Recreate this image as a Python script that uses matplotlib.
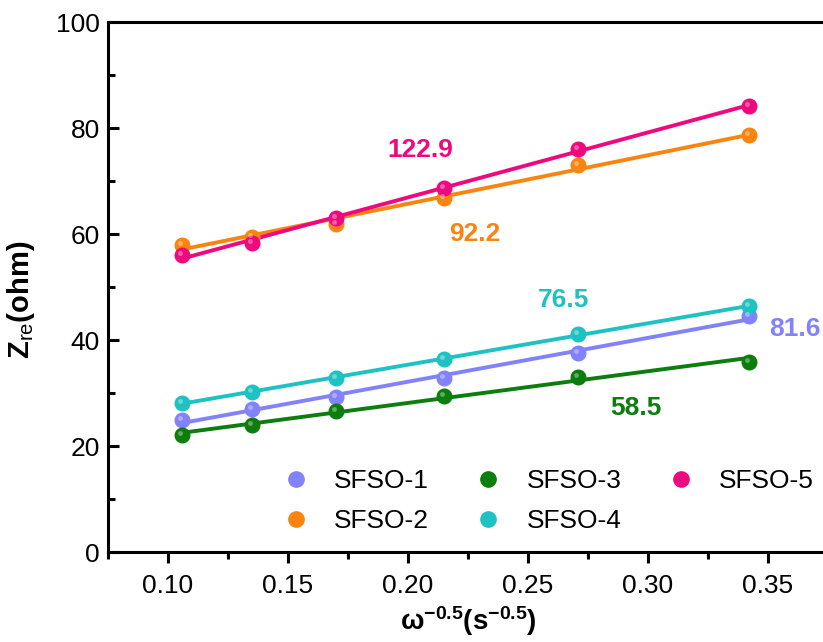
import numpy as np
import matplotlib
matplotlib.use("Agg")
import matplotlib.pyplot as plt
from matplotlib.transforms import ScaledTranslation

# omega^-0.5 values (s^-0.5)
x = [0.106, 0.135, 0.170, 0.215, 0.271, 0.342]

# Z_re (ohm) per sample
sfso1 = [25.0, 26.9, 29.2, 32.8, 37.5, 44.6]
sfso2 = [58.0, 59.5, 61.9, 66.8, 73.0, 78.6]
sfso3 = [22.1, 24.0, 26.6, 29.4, 33.1, 35.9]
sfso4 = [28.2, 30.2, 32.8, 36.4, 41.1, 46.4]
sfso5 = [56.0, 58.3, 63.0, 68.7, 76.0, 84.2]

labels = ["SFSO-1", "SFSO-2", "SFSO-3", "SFSO-4", "SFSO-5"]
colors = ["#8282fa", "#f98410", "#0d7d0d", "#1ec2c2", "#ee0a7e"]
# Warburg coefficients written next to each line
sigma = ["81.6", "92.2", "58.5", "76.5", "122.9"]
sigma_pos = [(0.361, 42.0), (0.228, 60.0), (0.295, 27.2), (0.265, 47.6), (0.205, 75.8)]

plt.rcParams['font.family'] = ['Liberation Sans', 'DejaVu Sans']
plt.rcParams['mathtext.fontset'] = 'custom'
plt.rcParams['mathtext.rm'] = 'Liberation Sans'
plt.rcParams['mathtext.bf'] = 'Liberation Sans:bold'
plt.rcParams['mathtext.it'] = 'Liberation Sans:italic'

fig = plt.figure(figsize=(8.23, 6.42), dpi=100)
ax = fig.add_axes([108/823, 90/642, 720/823, 530/642])

series = [sfso1, sfso2, sfso3, sfso4, sfso5]
hl = ScaledTranslation(-2/100, 2/100, fig.dpi_scale_trans)
for y, lab, c in zip(series, labels, colors):
    # linear fit line
    k, b = np.polyfit(x, y, 1)
    xx = np.array([x[0], x[-1]])
    ax.plot(xx, k*xx + b, color=c, lw=2.8, zorder=2)
    ax.plot(x, y, 'o', color=c, ms=10.5, mec=c, zorder=3)
    # small highlight to mimic the shaded balls
    ax.plot(x, y, 'o', color='white', alpha=0.35, ms=3.5, mew=0,
            transform=ax.transData + hl, zorder=4)
    ax.plot([], [], 'o', color=c, ms=11, label=lab)

for s, (px, py), c in zip(sigma, sigma_pos, colors):
    ax.text(px, py, s, color=c, fontsize=19, fontweight='bold',
            ha='center', va='center')

ax.set_xlim(0.075, 0.375)
ax.set_ylim(0, 100)
ax.set_xticks([0.10, 0.15, 0.20, 0.25, 0.30, 0.35])
ax.set_xticks(np.arange(0.075, 0.376, 0.05), minor=True)
ax.set_yticks([0, 20, 40, 60, 80, 100])
ax.set_yticks([10, 30, 50, 70, 90], minor=True)
ax.set_xticklabels(["0.10", "0.15", "0.20", "0.25", "0.30", "0.35"])

for sp in ax.spines.values():
    sp.set_linewidth(2.2)
ax.tick_params(axis='x', which='both', direction='out', width=2.2, labelsize=19, pad=8)
ax.tick_params(axis='x', which='major', length=8)
ax.tick_params(axis='x', which='minor', length=5)
ax.tick_params(axis='y', which='both', direction='in', width=2.2, labelsize=19, pad=6)
ax.tick_params(axis='y', which='major', length=8)
ax.tick_params(axis='y', which='minor', length=5)

ax.set_xlabel(r'$\mathbf{\omega^{-0.5}(s^{-0.5})}$', fontsize=20, labelpad=4)
ax.set_ylabel(r'$\mathbf{Z}_{\mathrm{re}}\mathbf{(ohm)}$', fontsize=21)
ax.yaxis.set_label_coords(-0.098, 0.475)

ax.legend(loc='lower right', ncol=3, frameon=False, fontsize=19,
          handletextpad=0.45, columnspacing=1.25, labelspacing=0.6,
          bbox_to_anchor=(0.995, 0.016), borderaxespad=0)

fig.savefig("out.png", dpi=100)
